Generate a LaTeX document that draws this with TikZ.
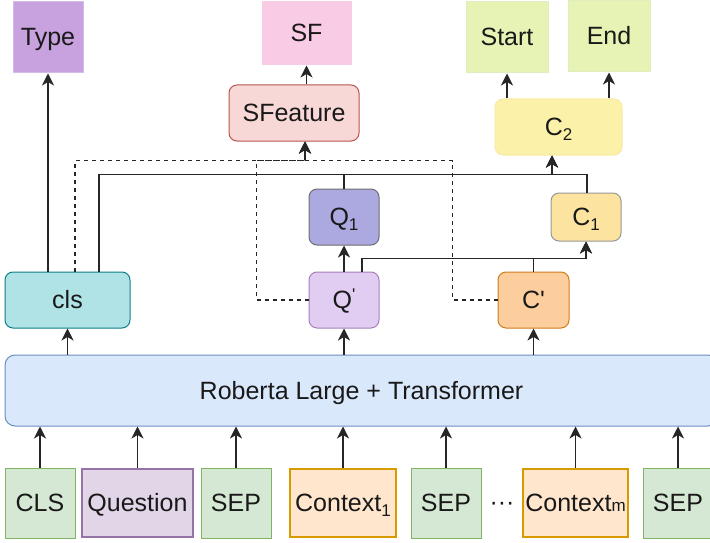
\documentclass[tikz,border=0pt]{standalone}
\usepackage{fontspec}
\newfontfamily\lsf{Liberation Sans}
\usetikzlibrary{arrows.meta}

\definecolor{typeF}{RGB}{200,162,222}\definecolor{typeD}{RGB}{214,186,236}
\definecolor{sfF}{RGB}{249,203,228}
\definecolor{outF}{RGB}{230,243,180}\definecolor{outD}{RGB}{222,238,190}
\definecolor{sfeatF}{RGB}{248,216,214}\definecolor{sfeatD}{RGB}{184,84,80}
\definecolor{ctwoF}{RGB}{251,241,168}\definecolor{ctwoD}{RGB}{250,232,165}
\definecolor{clsF}{RGB}{176,227,230}\definecolor{clsD}{RGB}{14,128,136}
\definecolor{qoneF}{RGB}{172,168,224}\definecolor{qoneD}{RGB}{110,110,110}
\definecolor{qpF}{RGB}{225,205,242}\definecolor{qpD}{RGB}{166,128,184}
\definecolor{coneF}{RGB}{252,228,160}\definecolor{coneD}{RGB}{150,150,150}
\definecolor{cpF}{RGB}{252,206,158}\definecolor{cpD}{RGB}{208,124,26}
\definecolor{robF}{RGB}{218,232,252}\definecolor{robD}{RGB}{108,142,191}
\definecolor{tokF}{RGB}{213,232,212}\definecolor{tokD}{RGB}{130,179,102}
\definecolor{quesF}{RGB}{225,213,231}\definecolor{quesD}{RGB}{150,115,166}
\definecolor{ctxF}{RGB}{255,230,204}\definecolor{ctxD}{RGB}{215,155,0}

\newcommand\lowsub[1]{\raisebox{-5pt}{\fontsize{17}{17}\selectfont #1}}
\newcommand\highmark{\raisebox{8pt}{\fontsize{17}{17}\selectfont '}}

\tikzset{
  every node/.style={font=\lsf\fontsize{25}{29}\selectfont, text=black!90,
    text height=22pt, text depth=5pt},
  blk/.style={rectangle, inner sep=0pt, line width=1pt},
  rblk/.style={blk, rounded corners=8pt},
  tok/.style={blk, fill=tokF, draw=tokD, minimum width=70pt, minimum height=70pt},
  ctx/.style={blk, fill=ctxF, draw=ctxD, line width=2.5pt, minimum height=68pt},
  link/.style={line width=1.3pt, draw=black!85},
  arr/.style={link, -{Stealth[length=12pt,width=12pt,inset=3.5pt]}},
  dsh/.style={arr, dash pattern=on 4pt off 4pt},
}

\begin{document}
\begin{tikzpicture}[x=1pt,y=-1pt]
\useasboundingbox (0,0) rectangle (710,543);
\clip (0,0) rectangle (710,543);

% outputs
\node[blk, fill=typeF, draw=typeD, minimum width=70pt, minimum height=71pt] (type) at (48,37.5) {Type};
\node[blk, fill=sfF, draw=sfF, minimum width=89pt, minimum height=63pt] (sf) at (306.5,33.5) {SF};
\node[blk, fill=outF, draw=outD, minimum width=82pt, minimum height=71pt] (start) at (507,37.5) {Start};
\node[blk, fill=outF, draw=outD, minimum width=82pt, minimum height=71pt] (end) at (609,36.5) {End};

% heads
\node[rblk, fill=sfeatF, draw=sfeatD, minimum width=130pt, minimum height=56pt] (sfeat) at (294,113) {SFeature};
\node[rblk, fill=ctwoF, draw=ctwoD, minimum width=127pt, minimum height=56pt] (c2) at (558.5,127) {C\lowsub{2}};
\node[rblk, fill=qoneF, draw=qoneD, minimum width=70pt, minimum height=56pt] (q1) at (344,217) {Q\lowsub{1}};
\node[rblk, fill=coneF, draw=coneD, minimum width=70pt, minimum height=48pt] (c1) at (586,217) {C\lowsub{1}};

% encoder outputs
\node[rblk, fill=clsF, draw=clsD, minimum width=125pt, minimum height=56pt] (cls) at (67.5,300) {cls};
\node[rblk, fill=qpF, draw=qpD, minimum width=70pt, minimum height=56pt] (qp) at (344,300) {Q\highmark};
\node[rblk, fill=cpF, draw=cpD, minimum width=71pt, minimum height=56pt] (cp) at (533.5,300) {C'};

% encoder
\node[blk, rounded corners=10pt, fill=robF, draw=robD, minimum width=713pt, minimum height=71pt] (rob) at (361.5,390.5) {Roberta Large + Transformer};

% input tokens
\node[tok] (t1) at (40,503) {CLS};
\node[blk, fill=quesF, draw=quesD, line width=2.5pt, minimum width=111pt, minimum height=68pt] (t2) at (137.5,503) {Question};
\node[tok] (t3) at (236,503) {SEP};
\node[ctx, minimum width=106pt] (t4) at (343,503) {Context\lowsub{1}};
\node[tok] (t5) at (446,503) {SEP};
\node (dots) at (502,503) {\raisebox{1pt}{···}};
\node[ctx, minimum width=105pt] (t6) at (575.5,503) {Context{\fontsize{17}{17}\selectfont m}};
\node[tok] (t7) at (678,503) {SEP};

% tokens into the encoder
\foreach \t in {t1,t2,t3,t4,t5,t6,t7}
  \draw[arr] (\t.north) -- (\t.north |- rob.south);

% encoder into its outputs
\foreach \t in {cls,qp,cp}
  \draw[arr] (\t.south |- rob.north) -- (\t.south);

% question type
\draw[arr] (cls.north -| type.south) -- (type.south);

% supporting-fact branch (dashed)
\coordinate (sfin) at ([xshift=11pt]sfeat.south);
\draw[dsh] ([xshift=7.5pt]cls.north) |- ([yshift=-19pt]sfin) -- (sfin);
\draw[dsh] (qp.west) -- ++(-52,0) |- ([yshift=-19pt]sfin) -- (sfin);
\draw[dsh] (cp.west) -- ++(-45,0) |- ([yshift=-19pt]sfin) -- (sfin);
\draw[arr] (sfeat.north -| sf.south) -- (sf.south);

% span branch
\coordinate (c2in) at ([xshift=-6.5pt]c2.south);
\draw[arr] ([xshift=31.5pt]cls.north) |- ([yshift=-19pt]c2in) -- (c2in);
\draw[arr] (q1.north) |- ([yshift=-19pt]c2in) -- (c2in);
\draw[arr] ([xshift=1pt]c1.north) |- ([yshift=-19pt]c2in) -- (c2in);

\draw[arr] ([xshift=18pt]qp.north) |- ([yshift=-17pt]c1.south) -- (c1.south);
\draw[arr] (cp.north) |- ([yshift=-17pt]c1.south) -- (c1.south);
\draw[arr] (qp.north) -- (q1.south);

\draw[arr] (c2.north -| start.south) -- (start.south);
\draw[arr] (c2.north -| end.south) -- (end.south);
\end{tikzpicture}
\end{document}
